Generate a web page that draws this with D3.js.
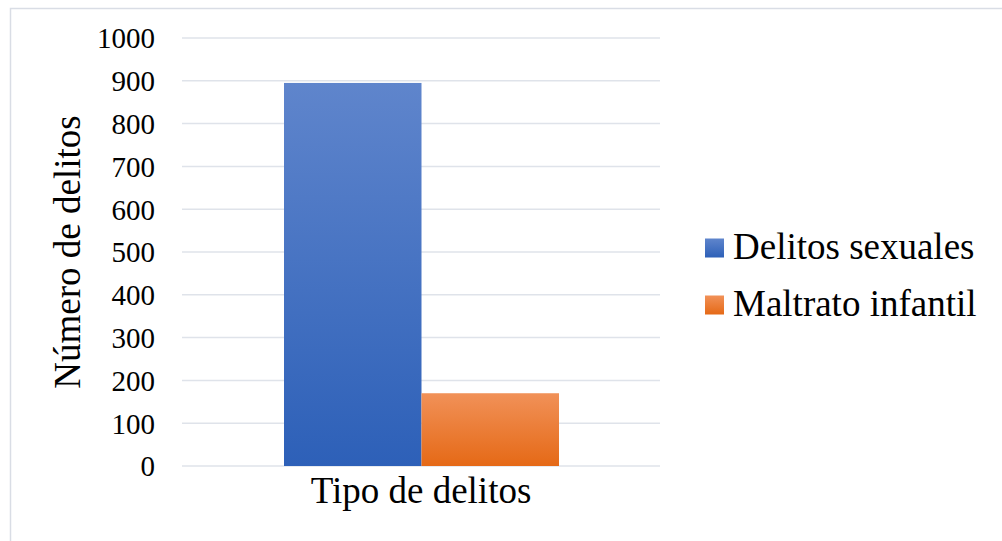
<!DOCTYPE html>
<html>
<head>
<meta charset="utf-8">
<script src="https://cdn.jsdelivr.net/npm/d3@7"></script>
<style>
  html, body { margin: 0; padding: 0; background: #fff; }
  svg { display: block; }
  text { font-family: "Liberation Serif", "Times New Roman", serif; fill: #000; }
</style>
</head>
<body>
<div id="chart"></div>
<script>
// chart data
const categories = ['Tipo de delitos'];
const seriesNames = ['Delitos sexuales', 'Maltrato infantil'];
const seriesValues = [895, 170];
const yTicks = [0, 100, 200, 300, 400, 500, 600, 700, 800, 900, 1000];

const width = 1002;
const height = 541;
const margins = { top: 38, right: 342, bottom: 75, left: 182 };
const SERIF = '"Liberation Serif", "Times New Roman", serif';

// gradient stops per series (top, bottom)
const gradients = [
    ['#5f85cc', '#2d60b8'],
    ['#f19158', '#e56916']
];

const svg = d3.select('#chart')
    .append('svg')
    .attr('width', width)
    .attr('height', height)
    .style('font-family', SERIF);

const defs = svg.append('defs');
gradients.forEach((g, i) => {
    const lg = defs.append('linearGradient')
        .attr('id', `grad${i}`)
        .attr('x1', 0).attr('y1', 0)
        .attr('x2', 0).attr('y2', 1);
    lg.append('stop').attr('offset', '0%').attr('stop-color', g[0]);
    lg.append('stop').attr('offset', '100%').attr('stop-color', g[1]);
});

// outer frame
svg.append('rect')
    .attr('x', 10.5)
    .attr('y', 8.5)
    .attr('width', width + 10)
    .attr('height', height + 10)
    .attr('fill', 'none')
    .attr('stroke', '#d9dde5')
    .attr('stroke-width', 1.5);

const plotWidth = width - margins.left - margins.right;
const plotHeight = 466 - margins.top;

const plotArea = svg.append('g')
    .attr('transform', `translate(${margins.left},${margins.top})`);

const yScale = d3.scaleLinear()
    .domain([0, 1000])
    .range([plotHeight, 0]);

const x0 = d3.scaleBand()
    .domain(categories)
    .range([0, plotWidth]);

const x1 = d3.scaleBand()
    .domain(seriesNames)
    .range([102, 377]);

// gridlines
plotArea.append('g')
    .selectAll('line')
    .data(yTicks)
    .join('line')
    .attr('x1', 0)
    .attr('x2', plotWidth)
    .attr('y1', d => yScale(d))
    .attr('y2', d => yScale(d))
    .style('stroke', '#dfe3ea')
    .style('stroke-width', '1.5px');

// y axis labels
const yAxis = plotArea.append('g')
    .call(d3.axisLeft(yScale)
        .tickValues(yTicks)
        .tickFormat(d3.format('d'))
        .tickSize(0)
        .tickPadding(27));
yAxis.attr('font-family', null).attr('font-size', null);
yAxis.select('.domain').remove();
yAxis.selectAll('text')
    .style('font-family', SERIF)
    .style('font-size', '29px')
    .attr('dy', '0.34em');

// bars
plotArea.selectAll('.bar')
    .data(seriesValues)
    .join('rect')
    .attr('class', 'bar')
    .attr('x', (d, i) => x0(categories[0]) + x1(seriesNames[i]))
    .attr('y', d => yScale(d))
    .attr('width', x1.bandwidth())
    .attr('height', d => plotHeight - yScale(d))
    .attr('fill', (d, i) => `url(#grad${i})`);

// x axis label
svg.append('text')
    .attr('text-anchor', 'middle')
    .attr('x', 421)
    .attr('y', 503)
    .style('font-size', '37px')
    .text(categories[0]);

// y title
svg.append('text')
    .attr('text-anchor', 'middle')
    .attr('transform', 'translate(80,252) rotate(-90)')
    .style('font-size', '37px')
    .text('Número de delitos');

// legend
const legend = svg.append('g')
    .attr('transform', 'translate(705,248)');

seriesNames.forEach((name, i) => {
    const row = legend.append('g')
        .attr('transform', `translate(0,${i * 57})`);
    row.append('rect')
        .attr('x', 0)
        .attr('y', -9.5)
        .attr('width', 19)
        .attr('height', 19)
        .attr('fill', `url(#grad${i})`);
    row.append('text')
        .attr('x', 28)
        .attr('y', 11)
        .style('font-size', '37px')
        .text(name);
});
</script>
</body>
</html>
